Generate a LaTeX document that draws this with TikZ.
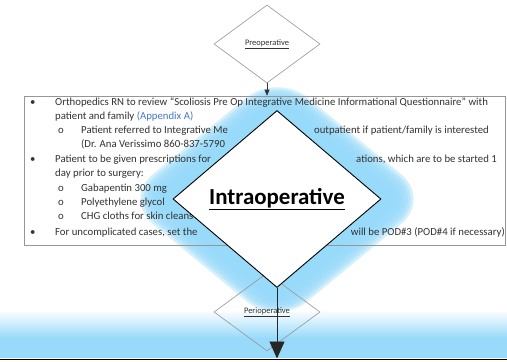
\documentclass[tikz,border=0pt]{standalone}
\usepackage{fontspec}
\setmainfont{Carlito}
\usetikzlibrary{arrows.meta,shapes.geometric}
\definecolor{glowblue}{RGB}{152,218,250}
\definecolor{linkblue}{RGB}{70,120,200}
\definecolor{txtgray}{RGB}{50,50,50}
\definecolor{boxgray}{RGB}{150,150,150}
\begin{document}
\begin{tikzpicture}[x=1bp,y=-1bp,
  bodytext/.style={font=\fontsize{10.8}{12}\selectfont, text=txtgray, anchor=base west, inner sep=0pt},
  bodyright/.style={bodytext, anchor=base east},
  smalldia/.style={diamond, draw=boxgray, line width=0.6bp, inner sep=0pt,
    minimum width=106bp, minimum height=78bp, aspect=1.36,
    font=\fontsize{8.5}{10}\selectfont, text=txtgray},
  bigdia/.style={diamond, draw=black, fill=white, line width=0.9bp, inner sep=0pt,
    minimum width=208bp, minimum height=177bp, aspect=1.18,
    font=\fontsize{23}{26}\selectfont\bfseries},
  flowarrow/.style={draw=black!85, line width=0.9bp, -{Triangle[width=15bp,length=17bp]}},
  smallarrow/.style={draw=txtgray, line width=0.6bp, -{Triangle[width=5bp,length=6bp]}}
]
\useasboundingbox (0,0) rectangle (507,361);
\fill[white] (0,0) rectangle (507,361);

% glow around the big diamond
\foreach \i in {1,...,12}{
  \fill[glowblue, opacity=0.4, rounded corners=3.3*\i]
    (277,{111-3.2*\i}) -- ({381+4.2*\i},199) -- (277,{288+3.2*\i}) -- ({173-4.2*\i},199) -- cycle;
}
% bottom band
\shade[top color=white, bottom color=glowblue] (0,310) rectangle (507,338);
\fill[glowblue] (0,338) rectangle (507,358);
\draw[black, line width=1.2bp] (0,359.4) -- (507,359.4);

% background document
\node[smalldia] (pre) at (267,44) {\underline{Preoperative}};
\node[draw=boxgray, line width=0.6bp, minimum width=481bp, minimum height=149bp, inner sep=0pt] (box) at (264.5,170.5) {};
\draw[smallarrow] (pre.south) -- (pre.south |- box.north);

\node[bodytext] (b1) at (30,105) {•};
\node[bodytext] (t1) at (55,105) {Orthopedics RN to review “Scoliosis Pre Op Integrative Medicine Informational Questionnaire” with};
\node[bodytext] (t2) at (55,119) {patient and family \textcolor{linkblue}{(Appendix A)}};
\node[bodytext] (s3) at (58,133) {o};
\node[bodytext] (t3) at (81,133) {Patient referred to Integrative Me};
\node[bodyright] (r3) at (489,133) {outpatient if patient/family is interested};
\node[bodytext] (t4) at (81,147) {(Dr. Ana Verissimo 860-837-5790};
\node[bodytext] (b5) at (30,162) {•};
\node[bodytext] (t5) at (55,162) {Patient to be given prescriptions for};
\node[bodyright] (r5) at (497,162) {ations, which are to be started 1};
\node[bodytext] (t6) at (55,176) {day prior to surgery:};
\node[bodytext] (s7) at (58,191) {o};
\node[bodytext] (t7) at (81,191) {Gabapentin 300 mg};
\node[bodytext] (s8) at (58,205) {o};
\node[bodytext] (t8) at (81,205) {Polyethylene glycol};
\node[bodytext] (s9) at (58,219) {o};
\node[bodytext] (t9) at (81,219) {CHG cloths for skin cleans};
\node[bodytext] (b10) at (30,235) {•};
\node[bodytext] (t10) at (55,235) {For uncomplicated cases, set the};
\node[bodyright] (r10) at (505,235) {will be POD\#3 (POD\#4 if necessary)};

\node[smalldia] (peri) at (267,312) {\underline{Perioperative}};

% overlay
\node[bigdia] (intra) at (277,199) {\underline{Intraoperative}};
\coordinate (end) at (277,358.5);
\draw[flowarrow] (intra.south) -- (end);
\end{tikzpicture}
\end{document}
